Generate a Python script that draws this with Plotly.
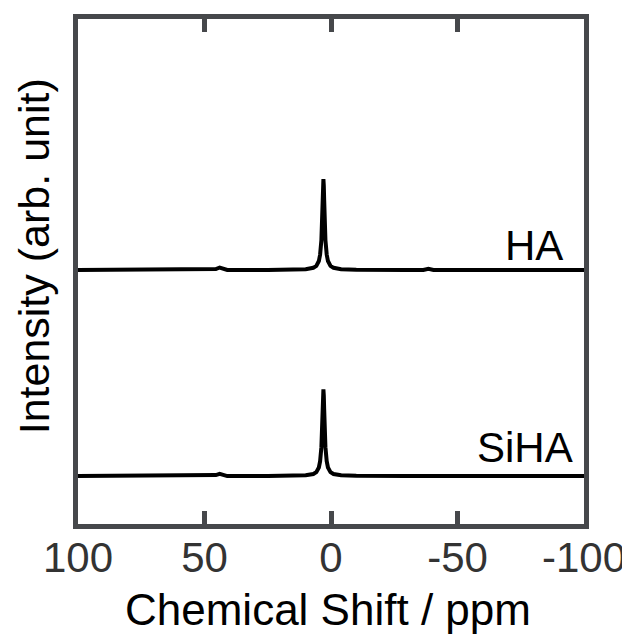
import plotly.graph_objects as go

# Chemical shift axis (ppm) sampled points
ppm = [100, 60, 47, 45.5, 44, 42.5, 41, 25, 16, 10, 7, 5.8, 4.8, 4.3, 3.8, 3.55, 3.3,
       3.15, 3.0, 2.85, 2.7, 2.45, 2.2, 1.7, 1.2, 0.2, -1, -4, -10, -30, -36.5,
       -38.5, -40.5, -60, -100]

# Intensities (arb. unit)
ha_int = [0, 0, 0, 1.0, 2.5, 1.0, 0, 0, 0.3, 0.8, 2.2, 4.2, 9.0, 15.5, 30, 46, 70,
          84.6, 91, 84.6, 70, 46, 30, 15.5, 9.0, 4.2, 2.2, 0.8, 0.3, 0, 0,
          1.2, 0, 0, 0]
siha_int = [0, 0, 0, 1.0, 2.3, 1.0, 0, 0, 0.3, 0.8, 2.1, 4.0, 8.6, 15, 29, 44, 67,
            81, 87, 81, 67, 44, 29, 15, 8.6, 4.0, 2.1, 0.8, 0.3, 0, 0,
            1.0, 0, 0, 0]

# vertical stacking offsets
ha_offset = 257
siha_offset = 50.5

labels = ["HA", "SiHA"]
x_ticks = [100, 50, 0, -50, -100]

FONT = "Arial, Liberation Sans, sans-serif"
AX = "#46484b"

fig = go.Figure()
for vals, off in [(ha_int, ha_offset), (siha_int, siha_offset)]:
    fig.add_trace(go.Scatter(
        x=ppm, y=[v + off for v in vals], mode="lines",
        line=dict(color="black", width=4), showlegend=False, hoverinfo="skip"))

fig.add_annotation(x=-92.5, y=ha_offset + 25, text=labels[0], xref="x", yref="y",
                   xanchor="right", yanchor="middle", showarrow=False,
                   font=dict(family=FONT, size=42, color="black"))
fig.add_annotation(x=-96.5, y=siha_offset + 29, text=labels[1], xref="x", yref="y",
                   xanchor="right", yanchor="middle", showarrow=False,
                   font=dict(family=FONT, size=42, color="black"))

# axis titles as annotations (paper coordinates)
fig.add_annotation(x=0.494, y=-0.169, xref="paper", yref="paper", text="Chemical Shift / ppm",
                   xanchor="center", yanchor="middle", showarrow=False,
                   font=dict(family=FONT, size=44, color="black"))
fig.add_annotation(x=-0.088, y=0.531, xref="paper", yref="paper", text="Intensity (arb. unit)",
                   xanchor="center", yanchor="middle", showarrow=False, textangle=-90,
                   font=dict(family=FONT, size=43, color="black"))

fig.update_xaxes(
    range=[100, -100], tickvals=x_ticks, ticktext=[str(t) for t in x_ticks],
    ticks="inside", ticklen=13, tickwidth=4.5, tickcolor=AX,
    showline=True, linewidth=5, linecolor=AX, mirror="ticks",
    showgrid=False, zeroline=False, automargin=False, ticklabelstandoff=-7,
    tickfont=dict(family=FONT, size=42, color="#333333"),
)
fig.update_yaxes(
    range=[2.5, 508.5], showticklabels=False, ticks="",
    showline=True, linewidth=5, linecolor=AX, mirror=True,
    showgrid=False, zeroline=False, automargin=False,
)
fig.update_layout(
    width=630, height=637,
    margin=dict(l=69.5, r=54, t=10.5, b=120.5),
    plot_bgcolor="white", paper_bgcolor="white",
)
fig.write_html("out.html")
